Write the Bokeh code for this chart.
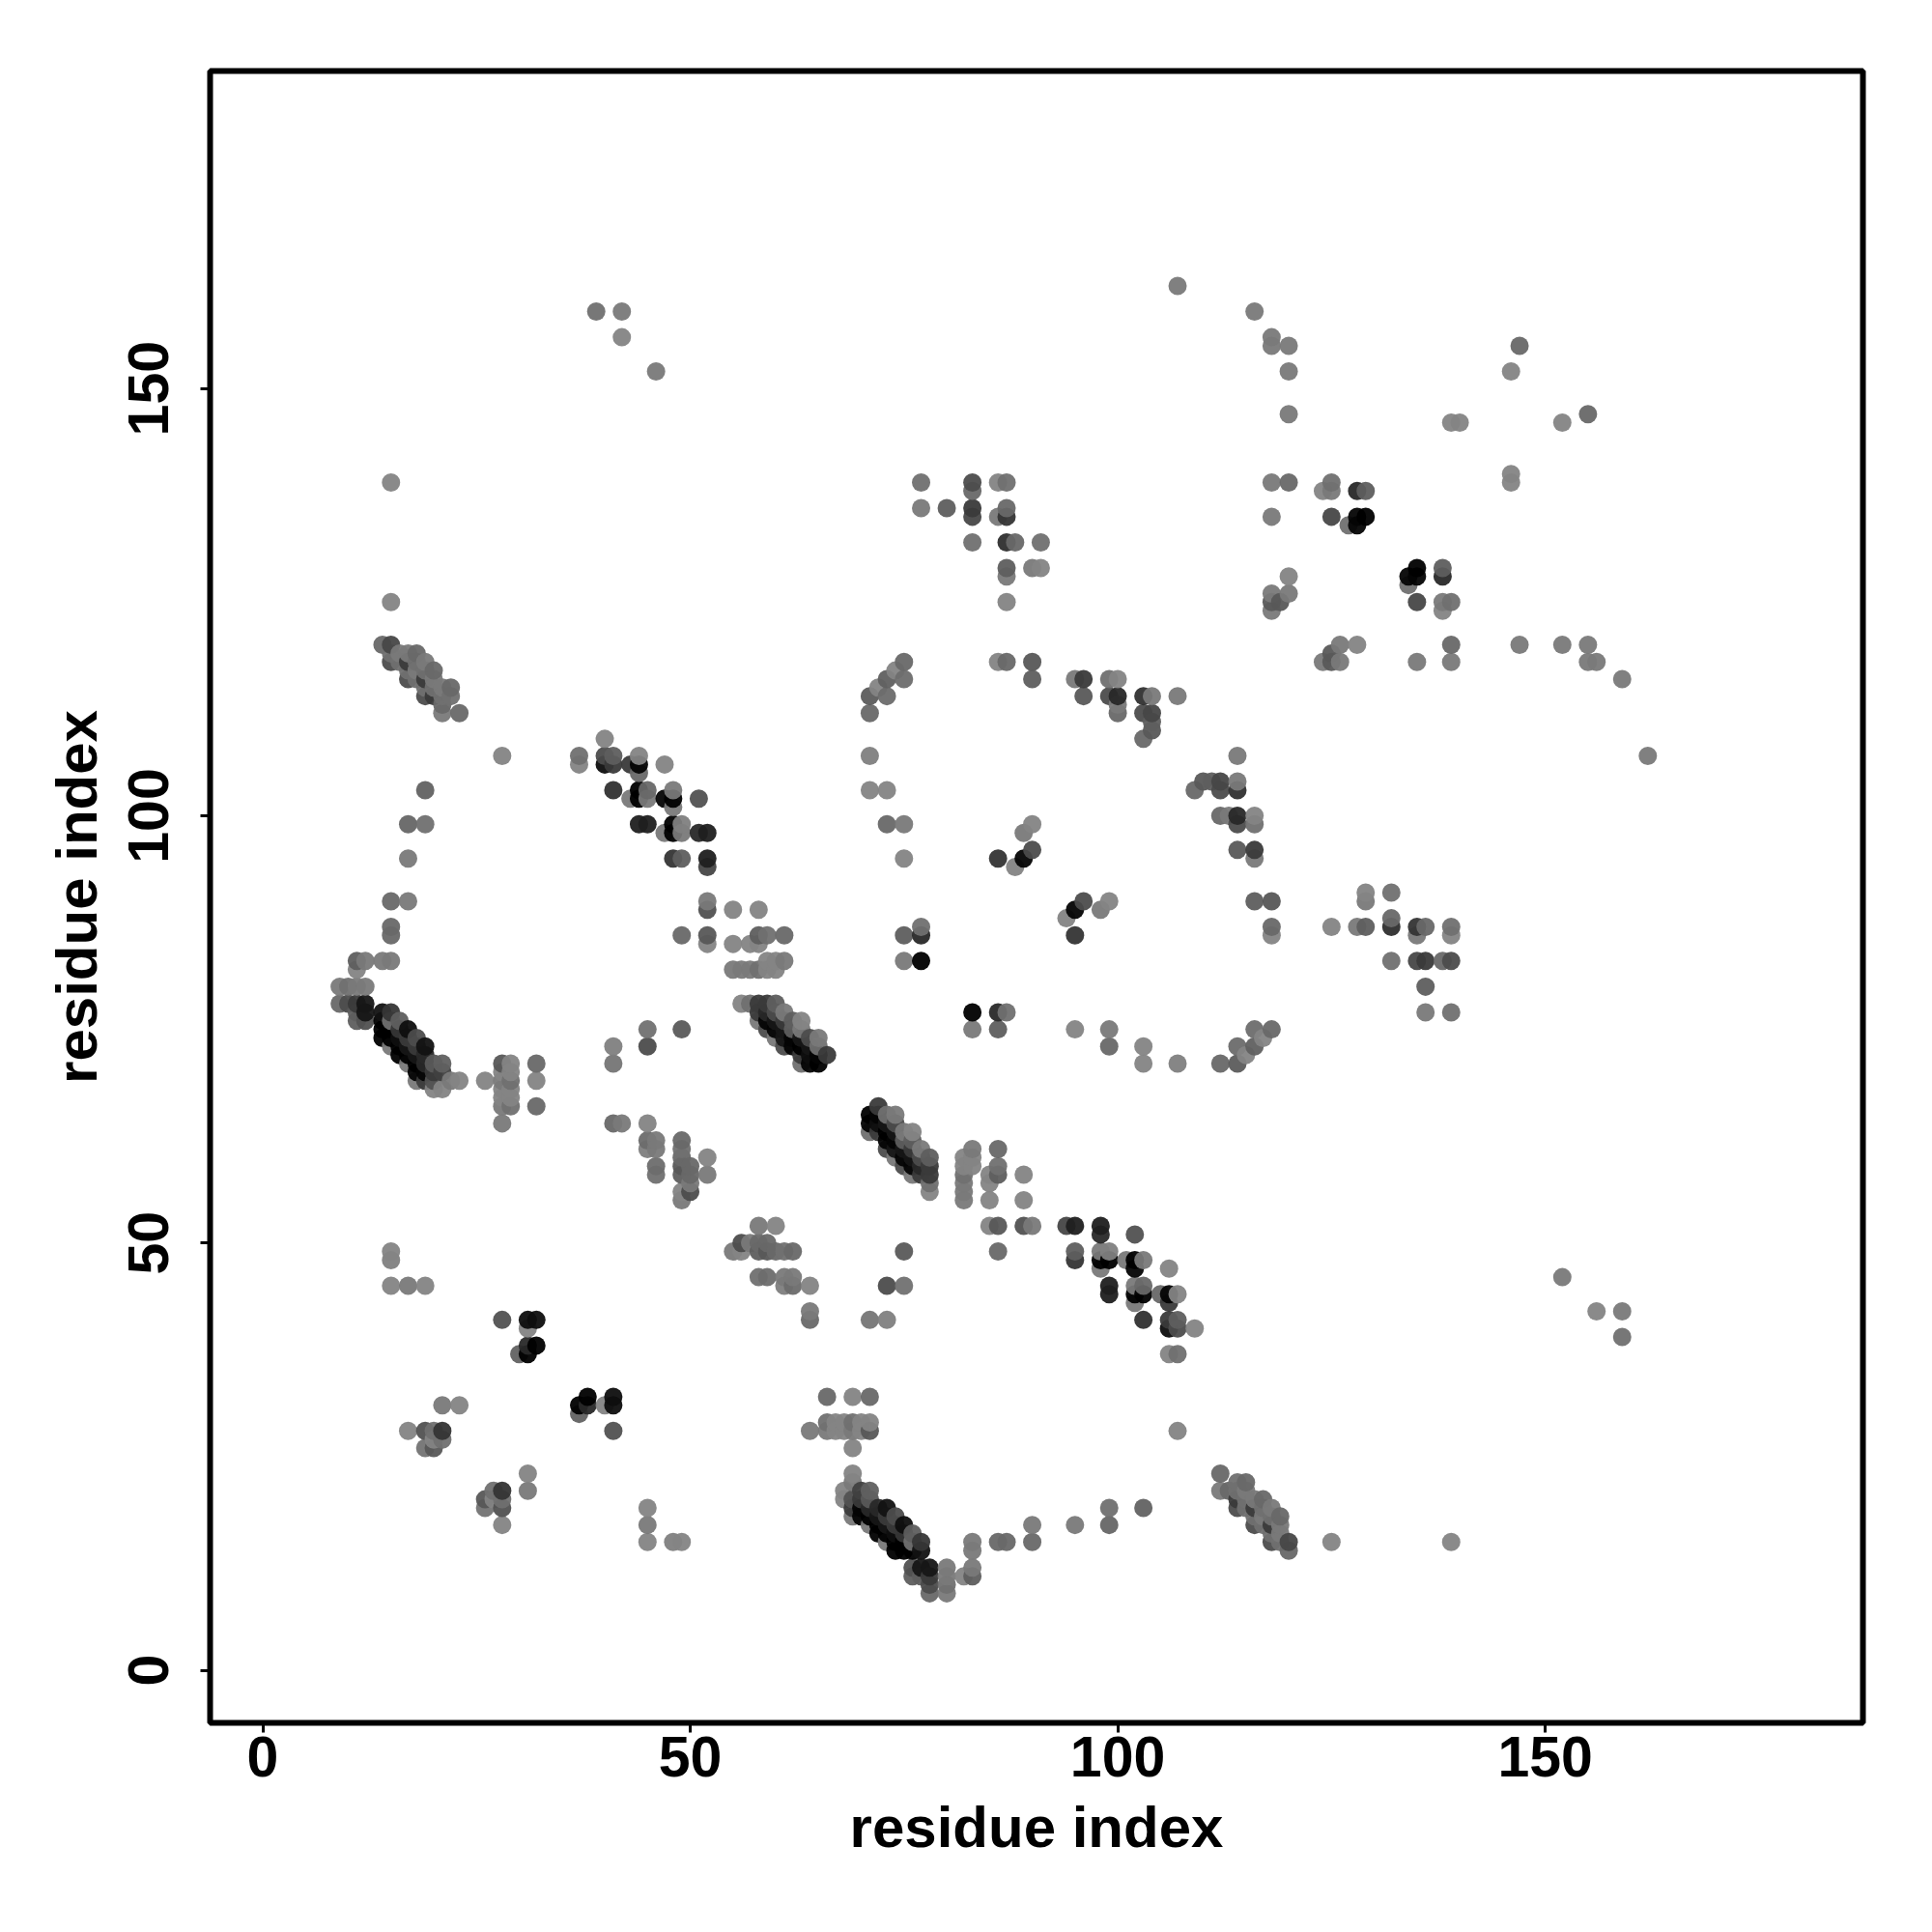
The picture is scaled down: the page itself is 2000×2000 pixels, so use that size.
from bokeh.plotting import figure
from bokeh.models import ColumnDataSource, FixedTicker, Range1d
from bokeh.embed import file_html
from bokeh.resources import INLINE

# Contacts (residue, residue, displayed grey level); the map is symmetric, so each pair appears once.
hairpin_low = [
 (69,23,0x8a),(69,22,0x80),(68,21,0x8a),(68,20,0x8a),(70,21,0x4a),(71,21,0x68),(69,20,0x5a),(69,19,0x44),(69,18,0x80),
 (70,20,0x44),(70,19,0x11),(70,18,0x11),(71,20,0x60),(71,19,0x33),(71,18,0x0a),(71,17,0x80),
 (72,19,0x33),(72,18,0x22),(72,17,0x0a),(72,16,0x0a),(73,19,0x1e),(73,18,0x44),(73,17,0x22),(73,16,0x0a),(73,15,0x80),
 (74,18,0x55),(74,17,0x44),(74,16,0x1a),(74,15,0x0a),(74,14,0x0a),(75,17,0x1a),(75,16,0x40),(75,15,0x0a),(75,14,0x0a),
 (76,16,0x66),(76,15,0x77),(76,14,0x0a),(77,15,0x40),(77,14,0x1e),
 (76,12,0x5a),(76,11,0x66),(77,12,0x22),(77,11,0x66),(78,12,0x22),(78,11,0x44),(78,10,0x55),(78,9,0x70),
 (80,12,0x80),(80,11,0x80),(80,10,0x77),(80,9,0x80),(82,11,0x8a),(83,12,0x80),(83,11,0x66),(83,15,0x80),(83,14,0x80),
 (86,15,0x70),(87,15,0x70),(90,17,0x80),(90,15,0x70),(95,17,0x80),(99,19,0x77),(99,17,0x6e),(103,19,0x6a),(107,28,0x8a),
]
hairpin_mid = [
 (72,66,0x44),(71,65,0x0a),(72,65,0x11),(73,65,0x77),(74,65,0x80),(71,64,0x11),(72,64,0x1a),(73,64,0x22),(74,64,0x55),
 (71,63,0x77),(72,63,0x44),(73,63,0x0a),(74,63,0x22),(75,63,0x80),(76,63,0x8a),(73,62,0x11),(74,62,0x11),(75,62,0x66),(76,62,0x66),
 (73,61,0x55),(74,61,0x22),(75,61,0x22),(76,61,0x44),(77,61,0x80),(74,60,0x80),(75,60,0x11),(76,60,0x22),(77,60,0x55),(78,60,0x66),
 (75,59,0x55),(76,59,0x11),(77,59,0x33),(78,59,0x44),(76,58,0x80),(77,58,0x44),(78,58,0x44),(78,57,0x77),(78,56,0x8a),
]
patch_82_109 = [
 (82,60,0x8a),(82,59,0x8a),(82,58,0x77),(82,57,0x80),(82,56,0x80),(82,55,0x80),(83,61,0x80),(83,60,0x8a),(83,59,0x8a),
 (85,58,0x8a),(85,57,0x8a),(85,55,0x8a),(85,52,0x8a),(86,61,0x70),(86,59,0x77),(86,58,0x66),(86,52,0x5f),(86,49,0x70),
 (89,58,0x8a),(89,55,0x8a),(89,52,0x5a),(90,52,0x80),(94,52,0x4f),(95,52,0x2a),(95,49,0x66),(95,48,0x3e),
 (98,52,0x2a),(98,51,0x33),(98,49,0x80),(98,48,0x0a),(98,47,0x80),(99,49,0x85),(99,48,0x0a),(99,45,0x2a),(99,44,0x2a),
 (101,48,0x80),(102,51,0x5a),(102,48,0x0a),(102,47,0x11),(102,45,0x80),(102,44,0x0a),(102,43,0x80),(103,48,0x80),(103,45,0x70),(103,44,0x0a),(103,41,0x3a),
 (105,44,0x70),(106,47,0x8a),(106,44,0x11),(106,43,0x44),(106,41,0x44),(106,40,0x1a),(106,37,0x8a),(107,44,0x8a),(107,41,0x66),(107,40,0x55),(107,37,0x77),(109,40,0x8a),
]
patch_55_75 = [
 (58,52,0x80),(60,52,0x8a),(55,49,0x80),(56,49,0x8a),(56,50,0x55),(57,50,0x80),(58,50,0x70),(59,50,0x70),
 (58,49,0x66),(59,49,0x60),(60,49,0x70),(61,49,0x77),(62,49,0x70),(58,46,0x77),(59,46,0x74),(61,46,0x80),(62,46,0x80),
 (61,45,0x84),(62,45,0x72),(64,45,0x8a),(64,42,0x80),(64,41,0x70),(75,49,0x62),(73,45,0x55),(75,45,0x78),(71,41,0x7c),(73,41,0x85),
]
patch_64_71 = [
 (64,28,0x80),(66,32,0x70),(66,29,0x77),(66,28,0x80),(67,29,0x8a),(67,28,0x8a),(68,29,0x8a),(68,28,0x8a),(69,32,0x8a),(69,29,0x77),
 (69,28,0x80),(69,26,0x8a),(70,29,0x8a),(70,28,0x8a),(71,32,0x70),(71,29,0x8a),(71,28,0x5f),
]
patch_low_left = [
 (37,30,0x6a),(37,31,0x0a),(38,31,0x33),(38,32,0x0a),(40,31,0x8a),(41,28,0x5a),(41,31,0x1a),(41,32,0x1a),
 (26,19,0x7a),(26,20,0x5f),(27,20,0x8a),(27,21,0x77),(28,17,0x8a),(28,19,0x5a),(28,20,0x77),(28,21,0x3e),(31,21,0x80),(31,23,0x8a),
 (45,15,0x8a),(45,17,0x80),(45,19,0x8a),(48,15,0x85),(49,15,0x8a),
 (152,46,0x80),(156,42,0x8a),(159,42,0x80),(159,39,0x77),
]
hairpin_far = [
 (112,23,0x70),(112,21,0x80),(113,21,0x70),(114,22,0x77),(114,21,0x77),(114,20,0x44),(114,19,0x55),(115,22,0x70),(115,21,0x80),(115,20,0x77),(115,19,0x77),
 (116,20,0x80),(116,19,0x44),(116,18,0x77),(116,17,0x55),(117,20,0x70),(117,19,0x77),(117,18,0x80),(117,17,0x77),(118,19,0x80),(118,18,0x77),(118,17,0x44),(118,16,0x77),(118,15,0x55),
 (119,18,0x70),(119,17,0x80),(119,16,0x80),(119,15,0x77),(120,15,0x50),(120,14,0x70),(125,15,0x8a),(139,15,0x8a),
]
patch_71_118 = [
 (75,118,0x70),(74,117,0x8a),(73,116,0x68),(75,116,0x74),(72,115,0x8a),(71,114,0x64),(73,114,0x72),(71,112,0x70),(71,107,0x80),(71,103,0x80),(73,103,0x80),(73,99,0x70),(75,99,0x80),(75,95,0x8a),
 (86,118,0x8a),(87,118,0x77),(90,118,0x60),(90,116,0x60),(95,116,0x80),(96,116,0x44),(96,114,0x60),(99,116,0x77),(100,116,0x8a),(99,114,0x60),(100,114,0x33),(100,113,0x77),(100,112,0x66),
 (103,114,0x44),(104,114,0x80),(107,114,0x80),(103,112,0x5a),(104,112,0x50),(104,111,0x66),(104,110,0x5a),(103,109,0x70),
]
patch_109_118 = [
 (114,107,0x80),(109,103,0x70),(110,104,0x60),(111,104,0x66),(112,104,0x50),(112,103,0x55),(114,104,0x80),(114,103,0x3a),
 (112,100,0x70),(113,100,0x80),(114,100,0x33),(116,100,0x8a),(114,99,0x55),(116,99,0x77),(114,96,0x60),(116,96,0x44),(116,95,0x80),(116,90,0x66),(118,90,0x5f),(118,87,0x70),(118,86,0x8a),
]
patch_83_99 = [
 (95,86,0x3e),(95,89,0x11),(94,88,0x80),(96,90,0x55),(98,89,0x80),(99,90,0x8a),(89,95,0x11),(88,94,0x8a),
 (83,77,0x0a),(86,77,0x33),(87,77,0x77),(83,75,0x80),(86,75,0x66),(95,75,0x8a),(99,75,0x80),(99,73,0x70),(103,73,0x8a),(103,71,0x8a),(107,71,0x85),
]
patch_125_139 = [
 (125,87,0x8a),(128,87,0x8a),(129,87,0x66),(129,91,0x8a),(129,90,0x8a),(132,91,0x80),(132,88,0x70),(132,87,0x38),(132,83,0x80),
 (135,87,0x38),(136,87,0x6a),(135,86,0x70),(139,87,0x77),(139,86,0x8a),(135,83,0x44),(136,83,0x44),(138,83,0x70),(139,83,0x50),(136,80,0x66),(136,77,0x8a),(139,77,0x80),
]
patch_top_mid = [
 (77,139,0x77),(77,136,0x80),(80,136,0x66),(83,139,0x55),(83,138,0x70),(83,136,0x44),(83,135,0x50),(83,132,0x77),
 (86,139,0x8a),(87,139,0x77),(86,135,0x80),(87,136,0x70),(87,135,0x3e),(87,132,0x38),(88,132,0x70),(91,132,0x77),
 (87,129,0x66),(87,128,0x80),(90,129,0x80),(91,129,0x8a),(87,125,0x8a),
]
patch_top_right = [
 (107,162,0x8a),(116,159,0x8a),(118,156,0x8a),(118,155,0x8a),(120,155,0x8a),(120,152,0x80),(120,147,0x80),(147,155,0x70),(146,152,0x8a),(155,147,0x70),(152,146,0x8a),(139,146,0x8a),(140,146,0x8a),(146,140,0x8a),(146,139,0x8a),
 (118,139,0x80),(120,139,0x77),(118,135,0x8a),(124,138,0x8a),(125,139,0x8a),(125,138,0x80),(128,138,0x3e),(129,138,0x66),(125,135,0x5a),(127,134,0x80),(128,134,0x22),(128,135,0x11),(129,135,0x0a),
 (135,129,0x0a),(134,128,0x11),(135,128,0x11),(134,127,0x77),(138,129,0x66),(138,128,0x33),(135,125,0x50),(138,125,0x80),(139,125,0x77),(138,124,0x8a),
 (120,128,0x8a),(118,126,0x8a),(120,126,0x80),(118,125,0x55),(119,125,0x60),(118,124,0x70),
 (126,120,0x80),(128,120,0x8a),(125,119,0x60),(124,118,0x80),(125,118,0x60),(126,118,0x80),(135,118,0x80),(139,120,0x70),(139,118,0x80),(147,120,0x80),(152,120,0x80),(155,120,0x80),(155,118,0x80),(156,118,0x80),(159,116,0x80),(162,107,0x80),
]
x_ticks = [0, 50, 100, 150]
y_ticks = [0, 50, 100, 150]
axis_title = "residue index"

groups = [hairpin_low, hairpin_mid, patch_82_109, patch_55_75, patch_64_71, patch_low_left, hairpin_far,
          patch_71_118, patch_109_118, patch_83_99, patch_125_139, patch_top_mid, patch_top_right]
contacts = {}
for g in groups:
    for a, b, s in g:
        contacts[(a, b)] = s
        contacts[(b, a)] = s

ALPHA = 0.95
def colour(s):
    g = max(0, round((s - 255 * (1 - ALPHA)) / ALPHA))
    return "#%02x%02x%02x" % (g, g, g)

order = sorted(contacts)
src = ColumnDataSource(dict(x=[k[0] for k in order], y=[k[1] for k in order], c=[colour(contacts[k]) for k in order]))

p = figure(width=1992, height=1992, frame_width=1711, frame_height=1710, output_backend="svg", toolbar_location=None,
           x_range=Range1d(-6.16, 187.16), y_range=Range1d(-6.16, 187.16),
           min_border_left=217, min_border_right=64, min_border_top=73, min_border_bottom=209)
p.scatter("x", "y", source=src, size=19, fill_color="c", fill_alpha=ALPHA, line_color=None)

p.grid.visible = False
p.outline_line_color = "black"
p.outline_line_width = 6
p.background_fill_color = "white"
p.border_fill_color = "white"
for ax, ticks in ((p.xaxis[0], x_ticks), (p.yaxis[0], y_ticks)):
    ax.ticker = FixedTicker(ticks=ticks)
    ax.axis_line_color = None
    ax.major_tick_in = 0
    ax.major_tick_out = 10
    ax.major_tick_line_width = 3
    ax.major_tick_line_color = "black"
    ax.minor_tick_line_color = None
    ax.major_label_text_font = "Liberation Sans"
    ax.major_label_text_font_style = "bold"
    ax.major_label_text_font_size = "59px"
    ax.major_label_text_color = "black"
    ax.axis_label = axis_title
    ax.axis_label_text_font = "Liberation Sans"
    ax.axis_label_text_font_style = "bold"
    ax.axis_label_text_font_size = "60px"
    ax.axis_label_text_color = "black"
p.xaxis[0].major_label_standoff = 4
p.xaxis[0].axis_label_standoff = 16
p.yaxis[0].major_label_orientation = "vertical"
p.yaxis[0].major_label_standoff = 33
p.yaxis[0].axis_label_standoff = 18

open("out.html", "w").write(file_html(p, INLINE))
